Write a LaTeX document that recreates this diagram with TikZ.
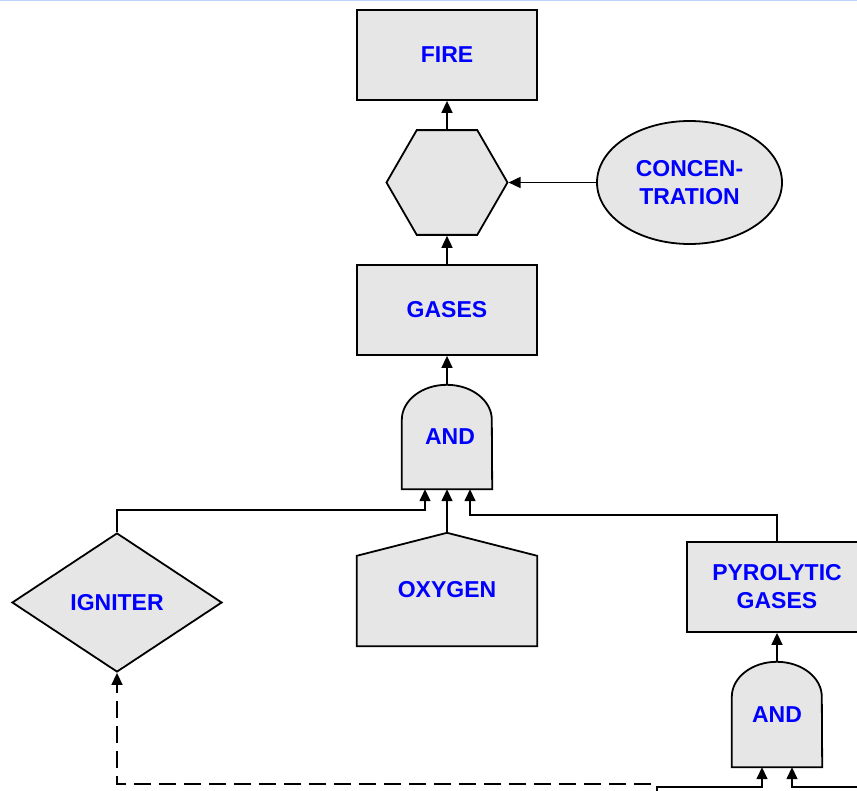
\documentclass[tikz,border=0pt]{standalone}
\usepackage{fontspec}
\setmainfont{Liberation Sans}
\usetikzlibrary{shapes.geometric,arrows.meta,backgrounds}
\definecolor{boxgray}{RGB}{230,230,230}
\definecolor{labelblue}{RGB}{0,0,255}
\definecolor{rimblue}{RGB}{190,210,250}
\tikzset{
  lbl/.style={font=\fontsize{23}{28}\selectfont\bfseries, text=labelblue, align=center},
  evbox/.style={lbl, draw, fill=boxgray, line width=1.8pt, minimum width=180pt, minimum height=90pt, inner sep=0pt},
  hexbox/.style={draw, fill=boxgray, line width=1.8pt, regular polygon, regular polygon sides=6, minimum size=121pt, inner sep=0pt},
  condbox/.style={lbl, draw, fill=boxgray, line width=1.8pt, ellipse, minimum width=185pt, minimum height=123pt, inner sep=0pt},
  gatebox/.style={lbl, diamond, draw, fill=boxgray, line width=1.8pt, minimum width=210pt, minimum height=139pt, inner sep=0pt},
  gateslot/.style={lbl, minimum width=90pt, minimum height=104pt, inner sep=0pt},
  houseslot/.style={lbl, minimum width=180pt, minimum height=113pt, inner sep=0pt},
  outline/.style={draw, fill=boxgray, line width=1.8pt},
  conn/.style={line width=1.5pt, -{Triangle[length=12pt,width=11pt]}}
}
% AND gate drawn round a slot node
\newcommand{\andgate}[1]{%
  \path[outline] (#1.south west) -- ([yshift=-35pt]#1.north west)
    arc[start angle=180, end angle=0, x radius=45pt, y radius=35pt]
    -- (#1.south east) -- cycle;}
% house shape for an undeveloped input
\newcommand{\housebox}[1]{%
  \path[outline] (#1.south west) -- ([yshift=-23pt]#1.north west)
    -- (#1.north) -- ([yshift=-23pt]#1.north east) -- (#1.south east) -- cycle;}
\begin{document}
\begin{tikzpicture}[x=1pt,y=1pt]
\useasboundingbox (0,0) rectangle (857,-791);
\clip (0,0) rectangle (857,-791);
\draw[rimblue, line width=1.4pt] (0,-0.7) -- (857,-0.7);

\node[evbox] (fire) at (447,-55) {FIRE};
\node[hexbox] (hex) at (447,-182.5) {};
\node[condbox] (conc) at (689.5,-182.5) {CONCEN-\\TRATION};
\node[evbox] (gases) at (447,-310) {GASES};
\node[gateslot] (and1) at (447,-437) {\hspace*{6pt}AND};
\node[houseslot] (oxy) at (447,-589.5) {OXYGEN};
\node[gatebox] (ign) at (117,-602.5) {IGNITER};
\node[evbox] (pyro) at (777,-587) {PYROLYTIC\\GASES};
\node[gateslot, minimum height=105pt] (and2) at (777,-714.5) {AND};
\coordinate (feedA) at (657,-800);
\coordinate (feedB) at (870,-787);
\coordinate (feedC) at (651,-784);

\begin{scope}[on background layer]
  \andgate{and1}
  \andgate{and2}
  \housebox{oxy}
\end{scope}

\draw[conn] (hex.north) -- (fire.south);
\draw[conn] (conc.west) -- (hex.east);
\draw[conn] (gases.north) -- (hex.south);
\draw[conn] (and1.north) -- (gases.south);
\draw[conn] (oxy.north) -- (and1.south);
\draw[conn] (ign.north) -- ++(0,22) -| ([xshift=-22pt]and1.south);
\draw[conn] (pyro.north) -- ++(0,26) -| ([xshift=23pt]and1.south);
\draw[conn] (and2.north) -- (pyro.south);
\draw[conn] (feedA) -- ++(0,13) -| ([xshift=-15pt]and2.south);
\draw[conn] (feedB) -| ([xshift=15pt]and2.south);
\draw[conn, dash pattern=on 17pt off 8pt] (feedC) -| (ign.south);
\end{tikzpicture}
\end{document}
